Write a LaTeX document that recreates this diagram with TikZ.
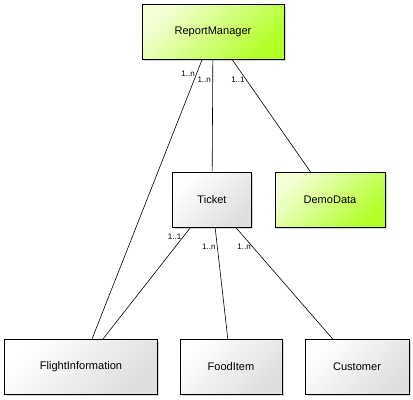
\documentclass[tikz,border=0pt]{standalone}
\usepackage{fontspec}
\setmainfont{Liberation Sans}
\usepackage{tikz}
\usetikzlibrary{shadows, positioning}

\definecolor{limepale}{RGB}{244,255,214}
\definecolor{limedeep}{RGB}{178,255,40}
\definecolor{greypale}{RGB}{255,255,255}
\definecolor{greydeep}{RGB}{222,222,222}

\begin{document}
\begin{tikzpicture}[
  x=0.035cm, y=-0.035cm,
  cls/.style={rectangle, draw=black, line width=0.9pt, align=center,
              minimum height=1.92cm, font=\fontsize{11}{13}\selectfont,
              drop shadow={shadow xshift=2pt, shadow yshift=-2pt, opacity=0.35}},
  greencls/.style={cls, shading=axis, top color=limepale, bottom color=limedeep, shading angle=45},
  greycls/.style={cls, shading=axis, top color=greypale, bottom color=greydeep, shading angle=45},
  assoc/.style={draw=black, line width=0.6pt},
  mult/.style={font=\fontsize{8}{9}\selectfont, inner sep=1.5pt}
]
\useasboundingbox (0,0) rectangle (413,400);

% Classes
\node[greencls, minimum width=4.97cm] (manager) at (213,32) {ReportManager};
\node[greycls, minimum width=2.76cm] (ticket) at (212,200) {Ticket};
\node[greencls, minimum width=3.85cm] (demo) at (330,200) {DemoData};
\node[greycls, minimum width=5.35cm] (flight) at (81,367) {FlightInformation};
\node[greycls, minimum width=3.57cm] (food) at (231,367) {FoodItem};
\node[greycls, minimum width=3.64cm] (customer) at (357,367) {Customer};

% Associations
\draw[assoc] (manager) -- node[mult, pos=0.05, left] {1..n} (flight);
\draw[assoc] (manager) -- node[mult, pos=0.18, left] {1..n} (ticket);
\draw[assoc] (manager) -- node[mult, pos=0.18, left] {1..1} (demo);
\draw[assoc] (ticket) -- node[mult, pos=0.08, left] {1..1} (flight);
\draw[assoc] (ticket) -- node[mult, pos=0.17, left] {1..n} (food);
\draw[assoc] (ticket) -- node[mult, pos=0.17, left] {1..n} (customer);
\end{tikzpicture}
\end{document}
